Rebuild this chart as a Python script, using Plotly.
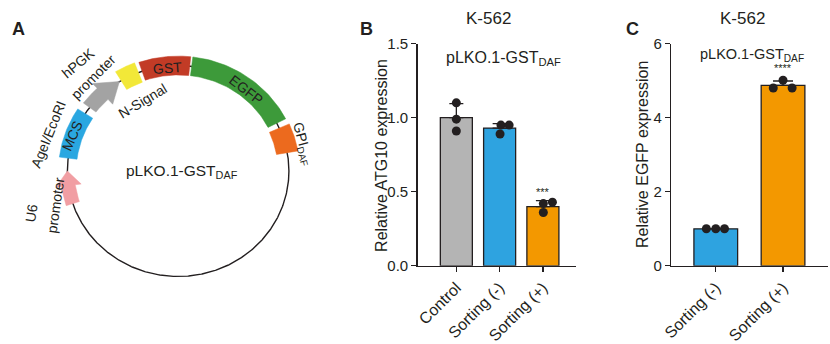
import numpy as np
import plotly.graph_objects as go

W, H = 830, 344
FONT = "Arial, Liberation Sans, sans-serif"
INK = "#231f20"

# ---------------- Panel A: plasmid map features (degrees, CCW from +x) ----------------
feat_names = ["U6 promoter", "MCS", "hPGK promoter", "N-Signal", "GST", "EGFP", "GPI"]
feat_start = [198, 173, 143, 121, 109, 83, 24]
feat_end = [180, 147, 122, 111, 84, 27, 10]
feat_kind = ["arrow", "block", "arrow", "block", "block", "block", "block"]
feat_colors = ["#f19ea3", "#2aa7e1", "#a3a3a3", "#f2e838", "#c23b26", "#3d9a3a", "#ec6a1e"]

# ---------------- Panel B ----------------
b_cats = ["Control", "Sorting (-)", "Sorting (+)"]
b_means = [1.00, 0.93, 0.40]
b_sd = [0.095, 0.03, 0.04]
b_points = [[1.10, 0.99, 0.91], [0.95, 0.95, 0.89], [0.42, 0.43, 0.36]]
b_sig = ["", "", "***"]

# ---------------- Panel C ----------------
c_cats = ["Sorting (-)", "Sorting (+)"]
c_means = [1.00, 4.87]
c_sd = [0.0, 0.12]
c_points = [[1.0, 1.0, 1.0], [4.80, 5.01, 4.80]]
c_sig = ["", "****"]

# ---------------- style ----------------
b_colors = ["#b4b4b4", "#2ea3e0", "#f39800"]
c_colors = ["#2ea3e0", "#f39800"]
b_jitter = [[0, 0, 0], [0.03, 0.22, 0.01], [0.01, 0.22, 0.01]]
c_jitter = [[-0.14, 0.0, 0.13], [-0.145, 0.0, 0.135]]
feat_hw = [13, 9, 15, 11, 10, 10, 11]     # half widths (head for arrows)
feat_sw = [7, 0, 8, 0, 0, 0, 0]           # shaft half widths for arrows
feat_head = [8, 0, 11, 0, 0, 0, 0]        # head length (deg)

fig = go.Figure()

# ---------- Panel A ----------
cx, cy, R = 171, 172, 112


def pt(a_deg, r):
    a = np.deg2rad(a_deg)
    return cx + r * np.cos(a), cy - r * np.sin(a)


th = np.linspace(0, 360, 721)
px, py = pt(th, R)
fig.add_trace(go.Scatter(x=px, y=py, mode="lines", line=dict(color=INK, width=1.4),
                         xaxis="x3", yaxis="y3", hoverinfo="skip", showlegend=False))

for name, a0, a1, kind, col, hw, sw, hl in zip(feat_names, feat_start, feat_end, feat_kind,
                                               feat_colors, feat_hw, feat_sw, feat_head):
    if kind == "block":
        aa = np.linspace(a0, a1, 40)
        ox, oy = pt(aa, R + hw)
        ix, iy = pt(aa[::-1], R - hw)
        xs = np.concatenate([ox, ix, ox[:1]])
        ys = np.concatenate([oy, iy, oy[:1]])
    else:
        sgn = 1 if a1 > a0 else -1
        ah = a1 - sgn * hl
        aa = np.linspace(a0, ah, 20)
        ox, oy = pt(aa, R + sw)
        ix, iy = pt(aa[::-1], R - sw)
        h1x, h1y = pt(ah, R + hw)
        tx, ty = pt(a1, R)
        h2x, h2y = pt(ah, R - hw)
        xs = np.concatenate([ox, [h1x, tx, h2x], ix, ox[:1]])
        ys = np.concatenate([oy, [h1y, ty, h2y], iy, oy[:1]])
    fig.add_trace(go.Scatter(x=xs, y=ys, mode="lines", fill="toself", fillcolor=col,
                             line=dict(color=col, width=0.5), xaxis="x3", yaxis="y3",
                             hoverinfo="skip", showlegend=False, name=name))

# ---------- Panel B ----------
bx = list(range(len(b_cats)))
fig.add_trace(go.Bar(x=bx, y=b_means, width=0.74, marker=dict(color=b_colors, line=dict(color=INK, width=1.3)),
                     error_y=dict(type="data", symmetric=False, array=b_sd, arrayminus=[0] * len(b_sd),
                                  color=INK, thickness=1.3, width=7),
                     xaxis="x", yaxis="y", showlegend=False, hoverinfo="skip"))
for i, (pts, jit) in enumerate(zip(b_points, b_jitter)):
    fig.add_trace(go.Scatter(x=[i + j for j in jit], y=pts, mode="markers",
                             marker=dict(color=INK, size=9), xaxis="x", yaxis="y",
                             showlegend=False, hoverinfo="skip", cliponaxis=False))

# ---------- Panel C ----------
cxv = list(range(len(c_cats)))
fig.add_trace(go.Bar(x=cxv, y=c_means, width=0.65, marker=dict(color=c_colors, line=dict(color=INK, width=1.3)),
                     error_y=dict(type="data", symmetric=False, array=c_sd, arrayminus=[0] * len(c_sd),
                                  color=INK, thickness=1.3, width=10),
                     xaxis="x2", yaxis="y2", showlegend=False, hoverinfo="skip"))
for i, (pts, jit) in enumerate(zip(c_points, c_jitter)):
    fig.add_trace(go.Scatter(x=[i + j for j in jit], y=pts, mode="markers",
                             marker=dict(color=INK, size=9), xaxis="x2", yaxis="y2",
                             showlegend=False, hoverinfo="skip", cliponaxis=False))

# ---------- axes ----------
def py2paper(p):
    return (H - p) / H


def px2paper(p):
    return p / W


ydom = [py2paper(272.7), py2paper(36.7)]
axis_common = dict(showline=True, linecolor=INK, linewidth=1.3, ticks="outside", ticklen=5,
                   tickwidth=1.3, tickcolor=INK, showgrid=False, zeroline=False)
xtick_font = dict(family=FONT, size=16, color=INK)
ytick_font = dict(family=FONT, size=15, color=INK)

fig.update_layout(
    width=W, height=H, margin=dict(l=0, r=0, t=0, b=0),
    paper_bgcolor="white", plot_bgcolor="white",
    font=dict(family=FONT, color=INK),
    bargap=0,
    xaxis=dict(domain=[px2paper(413), px2paper(573)], range=[-0.897, 2.76], anchor="y",
               tickvals=bx, ticktext=b_cats, tickangle=-45, tickfont=xtick_font, **axis_common),
    yaxis=dict(domain=ydom, range=[0, 1.5], anchor="x", tickvals=[0, 0.5, 1.0, 1.5],
               tickformat=".1f", tickfont=ytick_font, **axis_common),
    xaxis2=dict(domain=[px2paper(669.3), px2paper(828)], range=[-0.665, 1.669], anchor="y2",
                tickvals=cxv, ticktext=c_cats, tickangle=-45, tickfont=xtick_font, **axis_common),
    yaxis2=dict(domain=ydom, range=[0, 6], anchor="x2", tickvals=[0, 2, 4, 6],
                tickfont=ytick_font, **axis_common),
    xaxis3=dict(domain=[0, px2paper(300)], range=[0, 300], visible=False, anchor="y3"),
    yaxis3=dict(domain=[0, 1], range=[H, 0], visible=False, anchor="x3"),
)

ann = []


def A(text, x, y, angle=0, size=14, **kw):
    ann.append(dict(text=text, x=x, y=y, xref="x3", yref="y3", showarrow=False, textangle=angle,
                    font=dict(family=FONT, size=size, color=INK), xanchor="center", yanchor="middle", **kw))


A("hPGK", 70, 57, -40)
A("promoter", 85, 72, -45)
A("N-Signal", 135, 98, -31)
A("AgeI/EcoRI", 40, 133, -68)
A("MCS", 64, 135, -66)
A("U6", 23, 217, -82)
A("promoter", 47, 208, -82)
A("GST", 160, 63, -4)
A("EGFP", 240, 86, 38)
A("GPI<sub>DAF</sub>", 297, 143, 75)
A("pLKO.1-GST<sub>DAF</sub>", 175, 173, 0, 15.5)


def P(text, x, y, size=15, bold=False, **kw):
    ann.append(dict(text=("<b>%s</b>" % text) if bold else text, x=px2paper(x), y=py2paper(y),
                    xref="paper", yref="paper", showarrow=False,
                    font=dict(family=FONT, size=size, color=INK), xanchor="center", yanchor="middle", **kw))


P("A", 10, 21, 18, True)
P("B", 361, 21, 18, True)
P("C", 630, 21, 18, True)
P("K-562", 485, 10, 17)
P("K-562", 742, 10, 17)
P("pLKO.1-GST<sub>DAF</sub>", 500, 53, 16)
P("pLKO.1-GST<sub>DAF</sub>", 751, 49, 14.5)
P("Relative ATG10 expression", 377, 155, 16, textangle=-90)
P("Relative EGFP expression", 641, 155, 16, textangle=-90)

for i, s in enumerate(b_sig):
    if s:
        top = max(b_means[i] + b_sd[i], max(b_points[i]))
        ann.append(dict(text=s, x=i, y=top, xref="x", yref="y", showarrow=False, yanchor="bottom",
                        yshift=1, font=dict(family=FONT, size=11, color=INK)))
for i, s in enumerate(c_sig):
    if s:
        top = max(c_means[i] + c_sd[i], max(c_points[i]))
        ann.append(dict(text=s, x=i, y=top, xref="x2", yref="y2", showarrow=False, yanchor="bottom",
                        yshift=4, font=dict(family=FONT, size=11, color=INK)))

fig.update_layout(annotations=ann)
fig.write_html("out.html", config={"displayModeBar": False, "staticPlot": True},
               post_script="document.body.style.margin='0';document.body.style.padding='0';"
                           "document.body.style.overflow='hidden';")
